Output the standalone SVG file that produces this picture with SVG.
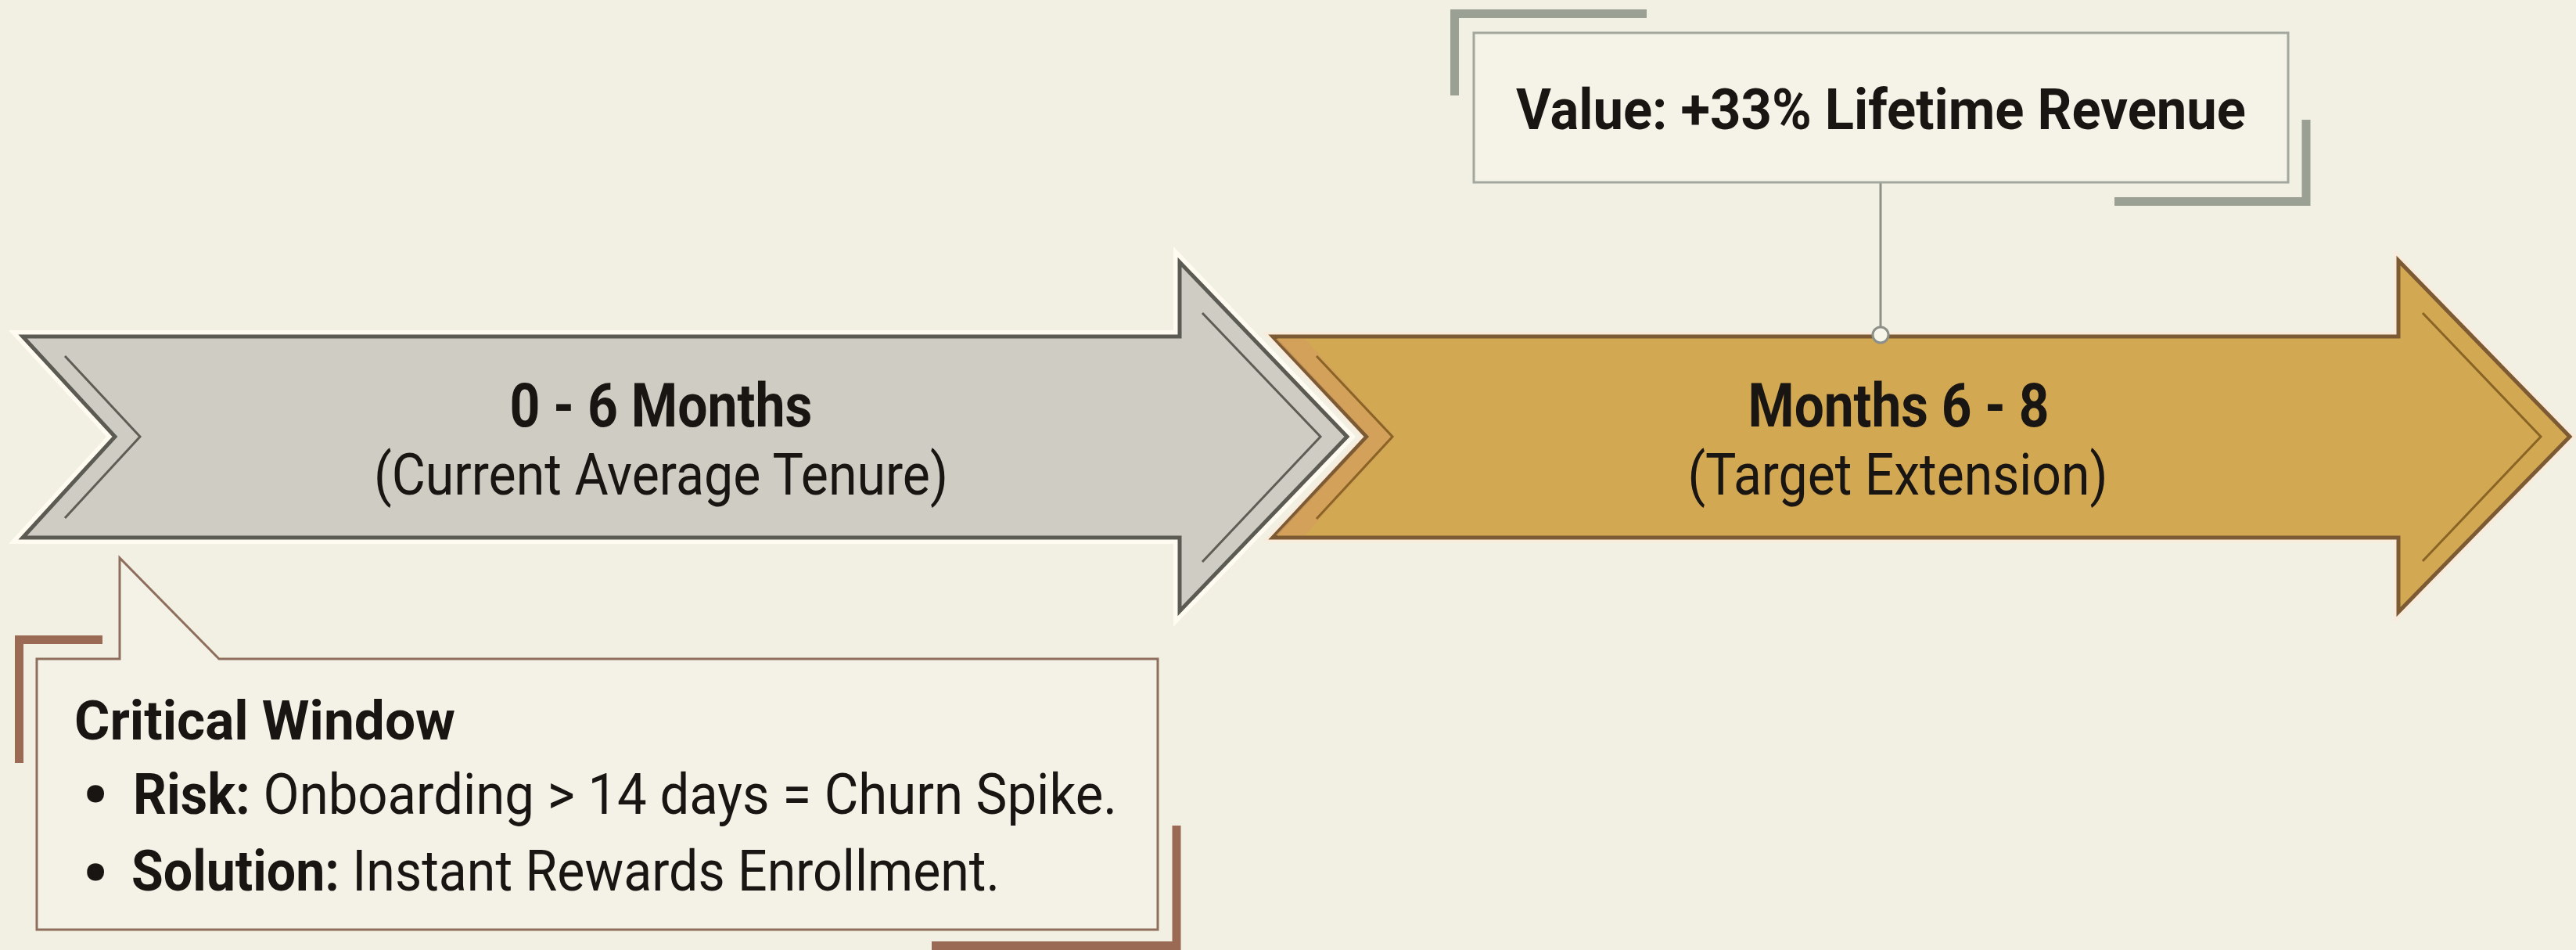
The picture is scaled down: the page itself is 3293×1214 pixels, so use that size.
<svg xmlns="http://www.w3.org/2000/svg" width="3293" height="1214" viewBox="0 0 3293 1214">
<style>
.bg{fill:#f2efe3}
.t{font-family:Roboto,"Liberation Sans",Arial,sans-serif;fill:#191512}
.b{font-weight:bold}
.r{font-weight:normal}
.dot{stroke:#191512;stroke-width:5;stroke-linejoin:round}
.grayA{fill:#cfccc3;stroke:#5b5b54;stroke-width:5;stroke-linejoin:miter}
.goldA{fill:#d2a853;stroke:#7c5a33;stroke-width:5;stroke-linejoin:miter}
.grayIn{fill:none;stroke:#5e5e57;stroke-width:3}
.goldIn{fill:none;stroke:#8a6424;stroke-width:3}
.halo{fill:none;stroke:#fffbf1;stroke-width:16;stroke-linejoin:miter}
.haloG{fill:none;stroke:#f9ecdc;stroke-width:12;stroke-linejoin:miter}
.brG{fill:none;stroke:#9aa194;stroke-width:11;stroke-linejoin:miter}
.brB{fill:none;stroke:#9b6a55;stroke-width:11;stroke-linejoin:miter}
.conn{fill:none;stroke:#8c9088;stroke-width:3}
</style>
<rect class="bg" x="0" y="0" width="3293" height="1214"/>

<g id="phase-target">
<path class="haloG" d="M1627,430 L3066,430 L3066,333 L3285,558 L3066,782 L3066,687 L1627,687 L1747,558 Z"/>
<path class="goldA" d="M1627,430 L3066,430 L3066,333 L3285,558 L3066,782 L3066,687 L1627,687 L1747,558 Z"/>
<polygon points="1631,433 1668,433 1783,558 1668,684 1631,684 1750,558" fill="#d39f5c" opacity="0.8"/>
<path class="goldIn" d="M1683,455 L1780,558 L1683,663"/>
<path class="goldIn" d="M3097,400 L3248,558 L3097,717"/>
<text class="t b" x="2427" y="545" font-size="77" text-anchor="middle" textLength="385" lengthAdjust="spacingAndGlyphs">Months 6 - 8</text>
<text class="t r" x="2426" y="632" font-size="74" text-anchor="middle" textLength="537" lengthAdjust="spacingAndGlyphs">(Target Extension)</text>
</g>

<g id="phase-current">
<path class="halo" d="M29,430 L1508,430 L1508,335 L1722,558 L1508,781 L1508,687 L29,687 L147,558 Z"/>
<path class="grayA" d="M29,430 L1508,430 L1508,335 L1722,558 L1508,781 L1508,687 L29,687 L147,558 Z"/>
<path class="grayIn" d="M83,455 L179,558 L83,662"/>
<path class="grayIn" d="M1537,400 L1688,558 L1537,718"/>
<text class="t b" x="845" y="545" font-size="77" text-anchor="middle" textLength="387" lengthAdjust="spacingAndGlyphs">0 - 6 Months</text>
<text class="t r" x="845" y="632" font-size="74" text-anchor="middle" textLength="734" lengthAdjust="spacingAndGlyphs">(Current Average Tenure)</text>
</g>

<g id="connectors">
<line class="conn" x1="2404" y1="233" x2="2404" y2="418"/>
<circle cx="2404" cy="428" r="10" fill="#f7f4ea" stroke="#8c9088" stroke-width="3"/>
</g>

<g id="value-box">
<rect x="1884" y="42" width="1041" height="191" fill="#f5f2e7" stroke="#a2a89e" stroke-width="3"/>
<path class="brG" d="M1859.5,122 V17.5 H2105"/>
<path class="brG" d="M2948,153 V257.5 H2703"/>
<text class="t b" x="2404.5" y="165" font-size="72" text-anchor="middle" textLength="933" lengthAdjust="spacingAndGlyphs">Value: +33% Lifetime Revenue</text>
</g>

<g id="critical-window">
<path d="M47,842 H153 V713 L280,842 H1480 V1188 H47 Z" fill="#f4f1e6" stroke="#8e6e5d" stroke-width="3" stroke-linejoin="miter"/>
<path class="brB" d="M24.5,975 V817.5 H131"/>
<path class="brB" d="M1504,1055 V1208.5 H1191"/>
<text class="t b" x="95" y="945" font-size="70" textLength="487" lengthAdjust="spacingAndGlyphs">Critical Window</text>
<text class="t b dot" x="122" y="1041" font-size="72" text-anchor="middle">•</text>
<text class="t" x="170" y="1040" font-size="72" textLength="1258" lengthAdjust="spacingAndGlyphs"><tspan class="b">Risk:</tspan><tspan class="r"> Onboarding &gt; 14 days = Churn Spike.</tspan></text>
<text class="t b dot" x="122" y="1141" font-size="72" text-anchor="middle">•</text>
<text class="t" x="168" y="1138" font-size="72" textLength="1110" lengthAdjust="spacingAndGlyphs"><tspan class="b">Solution:</tspan><tspan class="r"> Instant Rewards Enrollment.</tspan></text>
</g>
</svg>
